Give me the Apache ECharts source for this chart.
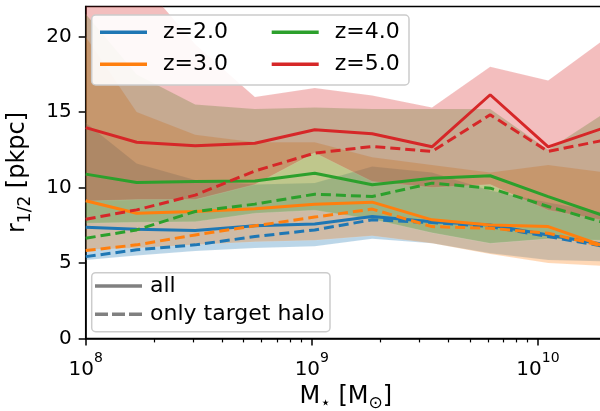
<!DOCTYPE html>
<html><head><meta charset="utf-8">
<script src="https://cdn.jsdelivr.net/npm/echarts@6/dist/echarts.min.js"></script>
<style>html,body{margin:0;padding:0;background:#fff}#c{width:600px;height:411px}</style>
</head><body><div id="c"></div>
<script>
// stellar mass bin centres [M_sun]
const mass = [1.0e8, 1.68e8, 3.05e8, 5.6e8, 1.03e9, 1.85e9, 3.4e9, 6.15e9, 1.11e10, 2.0e10];
// medians, all galaxies (solid)
const z2All = [7.37, 7.24, 7.15, 7.46, 7.59, 8.08, 7.74, 7.52, 6.86, 6.20];
const z3All = [9.12, 8.30, 8.41, 8.59, 8.90, 9.03, 7.86, 7.52, 7.41, 6.08];
const z4All = [10.89, 10.33, 10.40, 10.44, 10.95, 10.18, 10.62, 10.78, 9.40, 8.08];
const z5All = [13.97, 13.00, 12.77, 12.93, 13.83, 13.56, 12.70, 16.15, 12.70, 14.00];
// medians, only target halo (dashed)
const z2Tgt = [5.42, 5.87, 6.20, 6.75, 7.19, 7.86, 7.68, 7.41, 6.75, 6.08];
const z3Tgt = [5.82, 6.20, 6.86, 7.46, 8.04, 8.57, 7.41, 7.30, 6.97, 6.08];
const z4Tgt = [6.64, 7.19, 8.41, 8.90, 9.56, 9.40, 10.29, 9.96, 8.74, 7.64];
const z5Tgt = [7.90, 8.52, 9.50, 11.10, 12.28, 12.72, 12.39, 14.82, 12.39, 13.17];
// scatter bands (lower / upper)
const z2Lo = [5.2, 5.5, 5.8, 6.0, 6.1, 6.6, 6.3, 5.65, 5.2, 5.1];
const z2Hi = [14.3, 11.6, 10.5, 10.2, 10.3, 11.4, 11.0, 9.8, 9.0, 8.3];
const z3Lo = [5.87, 6.0, 6.2, 6.4, 6.5, 6.8, 6.3, 5.6, 5.0, 4.8];
const z3Hi = [20.0, 15.0, 13.5, 13.0, 13.0, 12.0, 11.5, 11.0, 11.5, 11.0];
const z4Lo = [7.64, 7.7, 7.74, 8.3, 8.5, 7.9, 7.0, 6.3, 6.6, 6.5];
const z4Hi = [21.5, 17.5, 15.5, 15.2, 15.3, 15.2, 15.2, 15.2, 12.5, 15.0];
const z5Lo = [9.1, 9.2, 9.2, 10.2, 12.3, 10.4, 10.0, 10.2, 8.5, 7.8];
const z5Hi = [25.0, 24.0, 19.5, 16.0, 16.6, 16.1, 15.3, 18.0, 17.1, 19.9];
const zLabels = ['z=2.0', 'z=3.0', 'z=4.0', 'z=5.0'];
const xMajor = [1e8, 1e9, 1e10];
const xMinor = [2e8,3e8,4e8,5e8,6e8,7e8,8e8,9e8,2e9,3e9,4e9,5e9,6e9,7e9,8e9,9e9];
const yTicks = [0, 5, 10, 15, 20];

const colors = ['#1f77b4', '#ff7f0e', '#2ca02c', '#d62728'];
const allSets = [z2All, z3All, z4All, z5All];
const tgtSets = [z2Tgt, z3Tgt, z4Tgt, z5Tgt];
const loSets = [z2Lo, z3Lo, z4Lo, z5Lo];
const hiSets = [z2Hi, z3Hi, z4Hi, z5Hi];
const FONT = 'DejaVu Sans';
const DASH_ICON = 'path://M0 0H13V3.5H0Z M17 0H30V3.5H17Z M34 0H47V3.5H34Z';

const series = [];
for (let k = 0; k < 4; k++) {
  series.push({
    type: 'custom', silent: true, z: 1,
    data: mass.map((m, i) => [m, loSets[k][i], hiSets[k][i]]),
    encode: { x: 0, y: [1, 2] },
    renderItem: (params, api) => {
      if (params.dataIndex !== 0) return null;
      const pts = [];
      for (let i = 0; i < mass.length; i++) pts.push(api.coord([mass[i], hiSets[k][i]]));
      for (let i = mass.length - 1; i >= 0; i--) pts.push(api.coord([mass[i], loSets[k][i]]));
      const cs = params.coordSys;
      return {
        type: 'polygon', shape: { points: pts },
        style: { fill: colors[k], opacity: 0.3, stroke: 'rgba(255,255,255,0.6)', lineWidth: 0.6 },
        clipPath: { type: 'rect', shape: { x: cs.x, y: cs.y, width: cs.width, height: cs.height } }
      };
    }
  });
}
for (let k = 0; k < 4; k++) {
  series.push({
    name: zLabels[k], type: 'line', symbol: 'none', z: 3, clip: true,
    data: mass.map((m, i) => [m, allSets[k][i]]),
    lineStyle: { color: colors[k], width: 3 }, itemStyle: { color: colors[k] }
  });
  series.push({
    type: 'line', symbol: 'none', z: 3, clip: true,
    data: mass.map((m, i) => [m, tgtSets[k][i]]),
    lineStyle: { color: colors[k], width: 3, type: [10, 5] }, itemStyle: { color: colors[k] }
  });
}
series.push({ name: 'all', type: 'line', symbol: 'none', data: [],
  lineStyle: { color: '#808080', width: 3 }, itemStyle: { color: '#808080' } });
series.push({ name: 'only target halo', type: 'line', symbol: 'none', data: [],
  lineStyle: { color: '#808080', width: 3, type: [10, 5] }, itemStyle: { color: '#808080' } });

function mkLegend(data, left, top, gap, pad) {
  return { data, left, top, orient: 'vertical', itemWidth: 47, itemHeight: 3.5, itemGap: gap,
    selectedMode: false, z: 60, padding: 0,
    textStyle: { fontSize: 22, fontFamily: FONT, color: '#000', padding: [0, 0, 0, pad], lineHeight: 24 } };
}
const nameRich = {
  b: { fontSize: 24, fontFamily: FONT, color: '#000', lineHeight: 32, verticalAlign: 'middle' },
  s: { fontSize: 17, fontFamily: FONT, color: '#000', lineHeight: 32, verticalAlign: 'bottom' }
};

const chart = echarts.init(document.getElementById('c'), null, { renderer: 'canvas' });
chart.setOption({
  animation: false,
  backgroundColor: '#fff',
  grid: { left: 85.7, top: 6.5, right: -6, bottom: 72.6, show: true, borderColor: '#000', borderWidth: 1.5,
          containLabel: false, outerBoundsMode: 'none' },
  xAxis: [{
    type: 'log', logBase: 10, min: 1e8, max: 2e10,
    axisLine: { lineStyle: { color: '#000', width: 1.5 } },
    axisTick: { length: 7, lineStyle: { color: '#000', width: 1.5 }, customValues: xMajor },
    axisLabel: { customValues: xMajor, margin: 13, color: '#000', fontFamily: FONT,
      formatter: v => '{b|10}{s|' + Math.round(Math.log10(v)) + '}',
      rich: { b: { fontSize: 20, fontFamily: FONT, color: '#000', lineHeight: 28, verticalAlign: 'bottom' },
              s: { fontSize: 14, fontFamily: FONT, color: '#000', lineHeight: 28, verticalAlign: 'top' } } },
    splitLine: { show: false },
    name: '{b|M}{s|⋆}{b| [M}{s|⊙}{b|]}', nameLocation: 'middle', nameGap: 37,
    nameTextStyle: { rich: nameRich }
  }, {
    type: 'log', logBase: 10, min: 1e8, max: 2e10, position: 'bottom',
    axisLine: { show: false },
    axisTick: { length: 4, lineStyle: { color: '#000', width: 1.2 }, customValues: xMinor },
    axisLabel: { show: false }, splitLine: { show: false }
  }],
  yAxis: {
    type: 'value', min: 0, max: 22, interval: 5,
    axisLine: { show: true, lineStyle: { color: '#000', width: 1.5 } },
    axisTick: { show: true, length: 7, lineStyle: { color: '#000', width: 1.5 }, customValues: yTicks },
    axisLabel: { customValues: yTicks, fontSize: 20, fontFamily: FONT, color: '#000', margin: 14 },
    splitLine: { show: false },
    name: '{b|r}{s|1/2}{b| [pkpc]}', nameLocation: 'middle', nameGap: 52, nameRotate: 90,
    nameTextStyle: { rich: nameRich }
  },
  legend: [
    mkLegend([{ name: 'z=2.0', icon: 'rect' }, { name: 'z=3.0', icon: 'rect' }], 100, 20.3, 8, 11),
    mkLegend([{ name: 'z=4.0', icon: 'rect' }, { name: 'z=5.0', icon: 'rect' }], 271.7, 20.3, 8, 11),
    mkLegend([{ name: 'all', icon: 'rect' }, { name: 'only target halo', icon: DASH_ICON }], 95, 274, 4.3, 3)
  ],
  graphic: [
    { type: 'rect', z: 50, shape: { x: 91.7, y: 15, width: 317.3, height: 70, r: 4 },
      style: { fill: 'rgba(255,255,255,0.9)', stroke: '#cccccc', lineWidth: 1.5 } },
    { type: 'rect', z: 50, shape: { x: 91.7, y: 272.7, width: 238.3, height: 59, r: 4 },
      style: { fill: 'rgba(255,255,255,0.9)', stroke: '#cccccc', lineWidth: 1.5 } }
  ],
  series
});
</script></body></html>
